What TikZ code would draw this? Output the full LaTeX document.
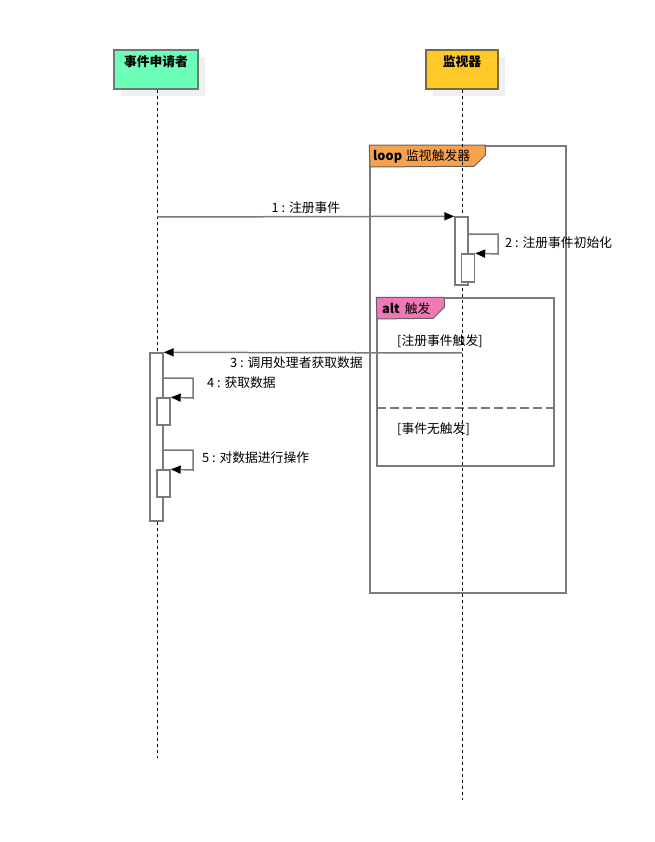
\documentclass[tikz,border=0pt]{standalone}
\usepackage{fontspec}
\setmainfont{Noto Sans CJK SC}
\usetikzlibrary{arrows.meta}
\definecolor{actgreen}{HTML}{6CFFB8}
\definecolor{actyellow}{HTML}{FFCA28}
\definecolor{loopor}{HTML}{F7A24F}
\definecolor{altpink}{HTML}{F178B6}
\definecolor{lgrey}{HTML}{7A7A7A}
\definecolor{shadowc}{HTML}{F0F0F0}
\definecolor{greenborder}{HTML}{6A7A72}
\definecolor{yellowborder}{HTML}{756A40}
\tikzset{
  actorbox/.style={draw=#1, line width=1.4pt, minimum width=84pt, minimum height=39pt, inner sep=0pt},
  shadowbox/.style={fill=shadowc, draw=none, minimum width=84pt, minimum height=39pt, inner sep=0pt},
  lifeline/.style={draw=black, line width=1pt, dash pattern=on 3pt off 3pt},
  actbox/.style={draw=lgrey, fill=white, line width=1.4pt, minimum width=13pt, inner sep=0pt},
  msg/.style={draw=lgrey, line width=1.5pt, -{Triangle[length=10pt,width=8pt,color=black]}},
  frame/.style={draw=lgrey, line width=1.5pt},
  tab/.style={draw=lgrey!80!black, line width=1pt},
  txt/.style={font=\fontsize{12.8}{15}\selectfont, inner sep=0pt},
  btxt/.style={font=\fontsize{12.8}{15}\selectfont\bfseries, inner sep=0pt},
}
\begin{document}
\begin{tikzpicture}[x=1pt,y=-1pt]
\useasboundingbox (0,0) rectangle (654,842);
% shadows
\node[shadowbox] at (163,76.5) {};
\node[shadowbox, minimum width=72pt] at (469,76.5) {};
% actors
\node[actorbox=greenborder, fill=actgreen] (a1) at (156,69.5) {};
\node[btxt] at (156,62) {事件申请者};
\node[actorbox=yellowborder, fill=actyellow, minimum width=72pt] (a2) at (462,69.5) {};
\node[btxt] at (462,62) {监视器};
% loop frame
\node[frame, minimum width=196pt, minimum height=447pt, inner sep=0pt] (loopf) at (468,369.5) {};
\draw[tab, fill=loopor] (loopf.north west) -- ++(116,0) -- ++(0,10) -- ++(-11,11) -- (370,167) -- cycle;
\node[txt, anchor=west] at (373,156.5) {\textbf{loop}\hspace{4pt}监视触发器};
% alt frame
\node[frame, fill=white, minimum width=177pt, minimum height=168pt, inner sep=0pt] (altf) at (465.5,382) {};
\draw[tab, fill=altpink] (altf.north west) -- ++(68,0) -- ++(0,10) -- ++(-11,11) -- (377,319) -- cycle;
\node[txt, anchor=west] at (382,308.5) {\textbf{alt}\hspace{5pt}触发};
\coordinate (dl) at (377,408);
\coordinate (dr) at (554,408);
\draw[draw=lgrey, line width=1.5pt, dash pattern=on 9pt off 4pt] (dl) -- (dr);
\node[txt, anchor=west] at (397,341.5) {[注册事件触发]};
\node[txt, anchor=west] at (397,429.5) {[事件无触发]};
% lifelines
\coordinate (l1end) at (157,758);
\coordinate (l2end) at (462,800);
\draw[lifeline] (a1.south -| 157,0) -- (l1end);
\draw[lifeline] (a2.south) -- (l2end);
% activations monitor
\node[actbox, minimum height=68pt] (act2) at (461.5,251) {};
\node[actbox, minimum height=28pt] (act2b) at (468,268) {};
% activations requester
\node[actbox, minimum height=168pt] (act1) at (156.5,437) {};
\node[actbox, minimum height=27pt] (act1b) at (163.5,411.5) {};
\node[actbox, minimum height=27pt] (act1c) at (163.5,483.5) {};
% message 1
\coordinate (m1s) at (157,217);
\draw[msg] (m1s) -- (act2.north west);
\node[txt] at (306,207.5) {1 : 注册事件};
% message 2 (self)
\draw[msg] (act2.east |- 0,234) -- (498,234) -- (498,254) -- (act2b.north east);
\node[txt, anchor=west] at (505,242.5) {2 : 注册事件初始化};
% message 3
\coordinate (m3s) at (462,353);
\draw[msg] (m3s) -- (act1.north east);
\node[txt] at (296.5,362.5) {3 : 调用处理者获取数据};
% message 4
\draw[msg] (act1.east |- 0,378) -- (193,378) -- (193,398) -- (act1b.north east);
\node[txt, anchor=west] at (207,383) {4 : 获取数据};
% message 5
\draw[msg] (act1.east |- 0,450) -- (193,450) -- (193,470) -- (act1c.north east);
\node[txt, anchor=west] at (202,458) {5 : 对数据进行操作};
\end{tikzpicture}
\end{document}
